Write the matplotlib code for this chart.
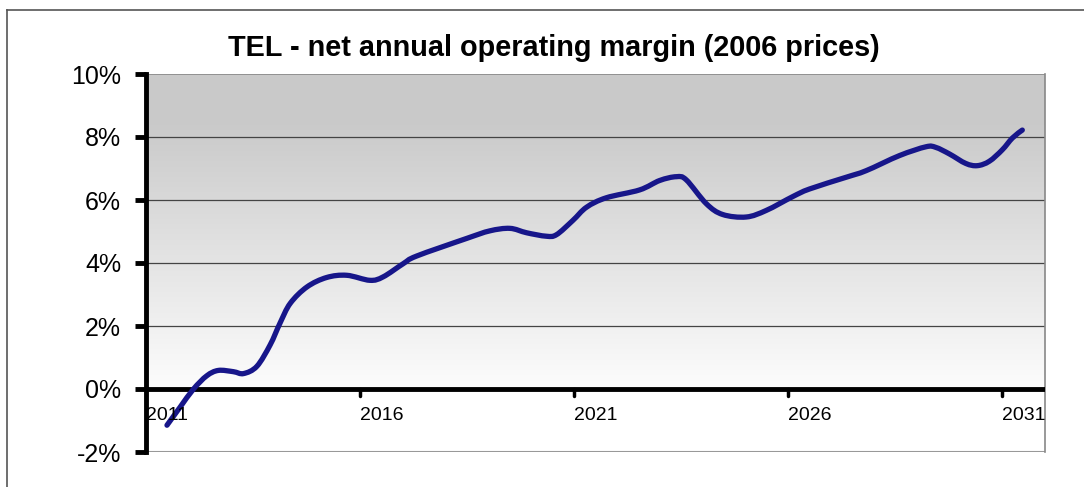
import numpy as np
import matplotlib.pyplot as plt
import matplotlib as mpl
import matplotlib.patches as mpatches
from matplotlib.path import Path as MPath
from matplotlib.lines import Line2D

mpl.rcParams['font.family'] = ['Liberation Sans', 'DejaVu Sans']

# values
years = [2011.49, 2011.80, 2012.11, 2012.42, 2012.69, 2013.04, 2013.28, 2013.59,
         2013.90, 2014.13, 2014.37, 2014.76, 2015.22, 2015.69, 2016.23, 2016.54,
         2017.01, 2017.32, 2018.49, 2019.03, 2019.50, 2019.89, 2020.35, 2020.59,
         2020.97, 2021.29, 2021.75, 2022.53, 2023.00, 2023.39, 2023.62, 2024.09,
         2024.47, 2025.02, 2025.49, 2026.11, 2026.50, 2027.35, 2027.82, 2028.60,
         2029.22, 2029.45, 2029.77, 2030.15, 2030.42, 2030.70, 2031.00, 2031.24,
         2031.47]
margin = [-1.15, -0.57, 0.00, 0.42, 0.59, 0.55, 0.49, 0.72,
          1.40, 2.09, 2.72, 3.24, 3.54, 3.61, 3.45, 3.56,
          3.98, 4.22, 4.78, 5.02, 5.10, 4.96, 4.85, 4.90,
          5.35, 5.77, 6.07, 6.32, 6.62, 6.74, 6.64, 5.88,
          5.54, 5.46, 5.67, 6.11, 6.35, 6.72, 6.93, 7.41,
          7.69, 7.67, 7.46, 7.16, 7.09, 7.23, 7.59, 7.97,
          8.22]
xtick_years = [2011, 2016, 2021, 2026, 2031]
ytick_vals = [-2, 0, 2, 4, 6, 8, 10]


def smooth_path(xs, ys):
    # Catmull-Rom through the points, written as cubic Bezier segments
    p = np.column_stack([xs, ys])
    verts = [p[0]]
    codes = [MPath.MOVETO]
    n = len(p)
    for i in range(n - 1):
        p0 = p[i - 1] if i > 0 else p[i]
        p1 = p[i]
        p2 = p[i + 1]
        p3 = p[i + 2] if i + 2 < n else p[i + 1]
        c1 = p1 + (p2 - p0) / 6.0
        c2 = p2 - (p3 - p1) / 6.0
        verts += [c1, c2, p2]
        codes += [MPath.CURVE4] * 3
    return MPath(verts, codes)


fig = plt.figure(figsize=(10.84, 4.87), dpi=100)
fig.patch.set_facecolor('white')

# outer frame (left and top edges visible)
fig.add_artist(Line2D([7 / 1084, 7 / 1084], [0, 1 - 10 / 487], transform=fig.transFigure,
                      color='#555555', lw=1.2))
fig.add_artist(Line2D([7 / 1084, 1], [1 - 10 / 487, 1 - 10 / 487], transform=fig.transFigure,
                      color='#555555', lw=1.2))

ax = fig.add_axes([146 / 1084, 1 - 452 / 487, 899 / 1084, 378 / 487])
x0, x1 = 2011, 2032
ax.set_xlim(x0, x1)
ax.set_ylim(-2, 10)

# grey gradient background from 0% up to 10%
grad = np.linspace(0, 1, 200).reshape(-1, 1)
top_c = np.array([0.79, 0.79, 0.79])
bot_c = np.array([0.99, 0.99, 0.99])
t = np.clip(grad / 0.85, 0, 1)
img = bot_c + (top_c - bot_c) * t
ax.imshow(img.reshape(200, 1, 3), extent=[x0, x1, 0, 10], origin='lower',
          aspect='auto', zorder=0)

for v in [2, 4, 6, 8]:
    ax.axhline(v, color='#444444', lw=0.9, zorder=1)
ax.axhline(10, color='#888888', lw=1.2, zorder=1)
ax.axhline(-2, color='#999999', lw=1.5, zorder=1)
ax.axhline(0, color='black', lw=3.5, zorder=3)

curve = mpatches.PathPatch(smooth_path(years, margin), facecolor='none',
                           edgecolor='#17168a', lw=3.8, capstyle='round',
                           joinstyle='round', zorder=4)
ax.add_patch(curve)

for s in ['top', 'bottom']:
    ax.spines[s].set_visible(False)
ax.spines['right'].set_color('#888888')
ax.spines['right'].set_linewidth(1.2)
ax.spines['left'].set_color('black')
ax.spines['left'].set_linewidth(3.5)

ax.set_yticks(ytick_vals)
ax.set_yticklabels([f'{v}%' for v in ytick_vals], fontsize=18)
ax.tick_params(axis='y', length=8, width=3.5, pad=10, color='black')

ax.set_xticks([])
for yr in xtick_years:
    if yr != x0:
        ax.plot([yr, yr], [0, -0.22], color='black', lw=2.5, zorder=3,
                solid_capstyle='round')
    ax.text(yr, -0.85, str(yr), ha='left', va='center', fontsize=14, zorder=5)

fig.text(554 / 1084, 1 - 48 / 487, 'TEL - net annual operating margin (2006 prices)',
         ha='center', va='center', fontsize=20.8, fontweight='bold')

fig.savefig('out.png', dpi=100, facecolor='white')
